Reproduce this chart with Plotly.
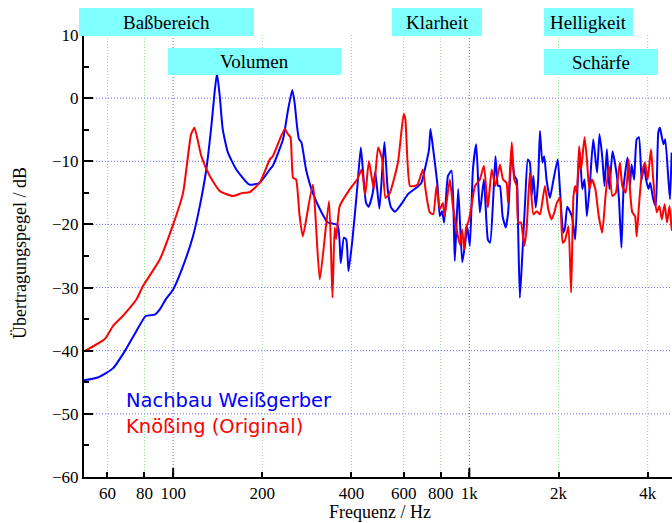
import math
import plotly.graph_objects as go

# Frequency response of the two instruments (Hz, dB)
freq_weissgerber = [
    50, 56, 62.6, 68.6, 75.1, 80.8, 86.6, 90, 94.3, 100, 108, 116.6, 123, 129.4,
    134.6, 138, 140.6, 143.6, 147, 153, 163.4, 181, 196, 212, 217, 235, 244,
    252.5, 257, 262, 266, 271, 281, 296, 317, 333, 359, 368, 377, 384, 391, 404,
    418, 430, 437, 448, 457, 472, 481, 497, 510, 517, 530, 544, 561, 589, 621,
    662, 689, 716, 731, 739, 755, 781, 795, 809, 822, 847, 871, 893, 917, 946,
    965, 985, 1004, 1028, 1055, 1085, 1120, 1155, 1175, 1205, 1225, 1250, 1268,
    1295, 1327, 1352, 1390, 1418, 1445, 1462, 1481, 1509, 1542, 1575, 1601, 1623,
    1645, 1675, 1708, 1731, 1764, 1790, 1822, 1871, 1920, 1988, 2022, 2075, 2104,
    2140, 2220, 2277, 2324, 2363, 2405, 2448, 2494, 2554, 2620, 2699, 2750, 2809,
    2860, 2913, 2970, 3043, 3138, 3200, 3262, 3320, 3420, 3486, 3530, 3600, 3672,
    3737, 3816, 3885, 3950, 4025, 4080, 4177, 4260, 4345, 4402, 4466, 4527, 4585,
    4700, 4758, 4820,
]
level_weissgerber = [
    -44.7, -44.2, -42.8, -40.1, -36.9, -34.5, -34.3, -33.5, -31.9, -30.3, -26.6,
    -21.9, -17.1, -11.3, -4.4, 0.9, 3.9, 0.4, -4.9, -8.6, -11.3, -13.7, -13.4,
    -11.3, -10.7, -6.5, -2.0, 1.3, -0.7, -4.5, -6.5, -7.0, -11.3, -15.0, -18.1,
    -19.7, -20.1, -26.1, -22.1, -22.4, -27.4, -21.9, -14.4, -7.8, -11.3, -16.6,
    -17.2, -15.0, -11.7, -17.5, -10.2, -7.0, -14.4, -17.3, -18.0, -16.8, -15.2,
    -14.2, -13.4, -10.2, -8.1, -4.9, -8.1, -13.9, -18.7, -17.9, -19.7, -12.3,
    -11.5, -25.8, -14.4, -26.0, -23.5, -20.5, -23.4, -11.3, -7.3, -18.1, -12.9,
    -22.4, -22.9, -15.5, -9.2, -13.9, -13.9, -18.7, -20.5, -18.1, -8.6, -12.3,
    -12.9, -21.3, -31.6, -25.0, -16.6, -9.7, -10.2, -15.5, -12.3, -17.3, -12.9,
    -5.2, -10.2, -9.2, -12.9, -15.8, -13.1, -9.7, -14.4, -21.3, -20.5, -17.2,
    -18.7, -22.4, -12.9, -8.6, -14.4, -12.9, -18.7, -13.4, -6.5, -11.8, -5.7,
    -9.2, -13.9, -8.1, -14.4, -8.4, -11.8, -16.0, -23.7, -13.9, -9.4, -13.9,
    -10.5, -12.9, -6.5, -6.2, -12.9, -10.7, -12.9, -14.4, -13.4, -16.0, -17.1,
    -5.4, -4.7, -6.2, -7.3, -6.5, -12.9, -16.0, -8.6,
]

freq_knoessing = [
    50, 58.9, 62.6, 67.6, 75.1, 79, 90, 100, 108, 115, 118, 124.5, 132.8, 143.6,
    159, 172, 181, 196, 212, 217, 238, 244, 249, 254, 260, 267, 274, 296, 312.6,
    336, 345, 351, 355, 365, 395, 418, 433, 445, 458, 476, 492, 508, 521, 539,
    574, 600, 608, 630, 653, 670, 697, 711, 735, 755, 775, 795, 814, 825, 859,
    880, 929, 946, 960, 975, 994, 1017, 1045, 1085, 1120, 1155, 1190, 1225, 1268,
    1300, 1335, 1352, 1390, 1418, 1445, 1462, 1493, 1532, 1560, 1601, 1645, 1688,
    1731, 1800, 1847, 1896, 1936, 1974, 2022, 2066, 2104, 2160, 2206, 2247, 2277,
    2307, 2348, 2385, 2448, 2494, 2540, 2595, 2663, 2735, 2809, 2883, 2961, 3041,
    3121, 3189, 3225, 3284, 3372, 3452, 3486, 3550, 3626, 3672, 3737, 3816, 3917,
    4000, 4105, 4177, 4290, 4382, 4466, 4563, 4650, 4740, 4810, 4833,
]
level_knoessing = [
    -40.1, -38.1, -36.1, -34.5, -31.9, -29.8, -25.6, -20.0, -15.0, -5.7, -4.7,
    -9.2, -12.3, -14.7, -15.5, -15.0, -14.9, -13.4, -9.7, -9.2, -4.9, -5.7,
    -6.2, -12.6, -12.9, -18.5, -21.9, -13.7, -28.7, -16.3, -31.6, -20.5, -22.3,
    -17.1, -14.4, -12.9, -11.3, -15.3, -10.0, -14.4, -7.8, -9.7, -15.8, -15.0,
    -10.2, -2.5, -3.3, -13.9, -13.9, -13.6, -11.3, -14.4, -18.1, -18.4, -13.9,
    -17.6, -16.6, -18.7, -12.9, -17.1, -23.2, -20.8, -24.0, -20.5, -19.5, -17.1,
    -13.9, -12.9, -10.7, -17.3, -11.3, -13.9, -10.5, -12.9, -13.4, -16.6, -7.0,
    -12.9, -13.9, -19.7, -19.7, -23.4, -20.8, -11.8, -18.4, -17.9, -18.4, -13.9,
    -17.6, -19.2, -18.1, -16.6, -15.8, -22.9, -22.5, -20.3, -30.8, -15.5, -13.9,
    -15.0, -7.6, -11.3, -6.2, -9.7, -14.4, -12.9, -14.4, -18.7, -21.3, -15.5,
    -10.7, -15.5, -15.0, -11.8, -10.2, -13.9, -15.0, -9.7, -14.4, -18.1, -18.7,
    -21.9, -17.1, -12.3, -10.2, -12.9, -8.1, -12.9, -18.1, -17.1, -19.2, -16.8,
    -19.7, -17.1, -20.3, -21.0,
]

x_tick_values = [60, 80, 100, 200, 400, 600, 800, 1000, 2000, 4000]
x_tick_text = ["60", "80", "100", "200", "400", "600", "800", "1k", "2k", "4k"]
y_tick_values = [-60, -50, -40, -30, -20, -10, 0, 10]
grid_levels = [-50, -40, -30, -20, -10, 0]
decade_freqs = [100, 1000]

band_labels = ["Baßbereich", "Volumen", "Klarheit", "Helligkeit", "Schärfe"]
# paper-space boxes (x0, x1, y0, y1) for the band labels
band_boxes = [
    (-0.0085, 0.2891, 0.9977, 1.0611),
    (0.1429, 0.4371, 0.9095, 0.9706),
    (0.5238, 0.6769, 0.9977, 1.0611),
    (0.7823, 0.9337, 0.9977, 1.0611),
    (0.7823, 0.9762, 0.9095, 0.9683),
]

X_MIN, X_MAX = 50, 4833
Y_MIN, Y_MAX = -60, 10
SERIF = "Liberation Serif"
BLUE_GRID = "#6a6aff"
GREEN_GRID = "#80e880"
GRID_DASH = "1px,2px"
LOG_MIN, LOG_MAX = math.log10(X_MIN), math.log10(X_MAX)


def freq_to_paper(f):
    """Horizontal paper fraction of a frequency on the log axis."""
    return (math.log10(f) - LOG_MIN) / (LOG_MAX - LOG_MIN)


line_style = dict(width=2, shape="spline", smoothing=0.5)
fig = go.Figure()
fig.add_trace(go.Scatter(x=freq_weissgerber, y=level_weissgerber, mode="lines",
                         line=dict(color="#0000ff", **line_style),
                         name="Nachbau Weißgerber"))
fig.add_trace(go.Scatter(x=freq_knoessing, y=level_knoessing, mode="lines",
                         line=dict(color="#ff0000", **line_style),
                         name="Knößing (Original)"))

shapes = []
# vertical grid lines at labelled frequencies
for f in x_tick_values:
    xp = freq_to_paper(f)
    shapes.append(dict(type="line", xref="paper", yref="paper", layer="below",
                       x0=xp, x1=xp, y0=0, y1=1,
                       line=dict(color=BLUE_GRID if f in decade_freqs else GREEN_GRID,
                                 width=1, dash=GRID_DASH)))
# horizontal grid lines
for lv in grid_levels:
    shapes.append(dict(type="line", xref="paper", yref="y", layer="below",
                       x0=0, x1=1, y0=lv, y1=lv,
                       line=dict(color=BLUE_GRID, width=1, dash=GRID_DASH)))
# longer ticks at the decades
for f in decade_freqs:
    xp = freq_to_paper(f)
    shapes.append(dict(type="line", xref="paper", yref="paper", layer="above",
                       x0=xp, x1=xp, y0=0, y1=9 / 442,
                       line=dict(color="black", width=2)))
# band label boxes
for (x0, x1, y0, y1) in band_boxes:
    shapes.append(dict(type="rect", xref="paper", yref="paper", layer="above",
                       x0=x0, x1=x1, y0=y0, y1=y1,
                       fillcolor="#80ffff", line=dict(width=0)))

annotations = []
for label, (x0, x1, y0, y1) in zip(band_labels, band_boxes):
    annotations.append(dict(text=label, xref="paper", yref="paper",
                            x=(x0 + x1) / 2, y=(y0 + y1) / 2,
                            xanchor="center", yanchor="middle", showarrow=False,
                            font=dict(family=SERIF, size=19, color="black")))
annotations += [
    dict(text="Nachbau Weißgerber", xref="paper", yref="paper", x=(124 - 84) / 588,
         y=(477 - 400) / 442, xanchor="left", yanchor="middle", showarrow=False,
         font=dict(family="DejaVu Sans", size=19.5, color="#0000ff")),
    dict(text="Knößing (Original)", xref="paper", yref="paper", x=(124 - 84) / 588,
         y=(477 - 426) / 442, xanchor="left", yanchor="middle", showarrow=False,
         font=dict(family="DejaVu Sans", size=19.5, color="#ff0000")),
    dict(text="Frequenz / Hz", xref="paper", yref="paper", x=(380 - 84) / 588,
         y=(477 - 512) / 442, xanchor="center", yanchor="middle", showarrow=False,
         font=dict(family=SERIF, size=18, color="black")),
    dict(text="Übertragungspegel / dB", xref="paper", yref="paper", x=(20 - 84) / 588,
         y=(477 - 253) / 442, xanchor="center", yanchor="middle", showarrow=False,
         textangle=-90, font=dict(family=SERIF, size=18, color="black")),
]

fig.update_layout(
    width=672, height=523,
    margin=dict(l=84, r=0, t=35, b=46),
    paper_bgcolor="white", plot_bgcolor="white",
    showlegend=False,
    shapes=shapes, annotations=annotations,
    xaxis=dict(type="log", range=[LOG_MIN, LOG_MAX],
               tickmode="array", tickvals=x_tick_values, ticktext=x_tick_text,
               ticks="inside", ticklen=5, tickwidth=2, tickcolor="black",
               showgrid=False, zeroline=False,
               showline=True, linecolor="black", linewidth=2,
               tickfont=dict(family=SERIF, size=17, color="black")),
    yaxis=dict(range=[Y_MIN, Y_MAX], tickmode="array", tickvals=y_tick_values,
               ticks="inside", ticklen=9, tickwidth=2, tickcolor="black",
               minor=dict(tickmode="array", tickvals=[-55, -45, -35, -25, -15, -5, 5],
                          ticks="inside", ticklen=5, tickwidth=2, tickcolor="black",
                          showgrid=False),
               showgrid=False, zeroline=False,
               showline=True, linecolor="black", linewidth=2,
               tickfont=dict(family=SERIF, size=17, color="black")),
)

fig.write_html("out.html")
